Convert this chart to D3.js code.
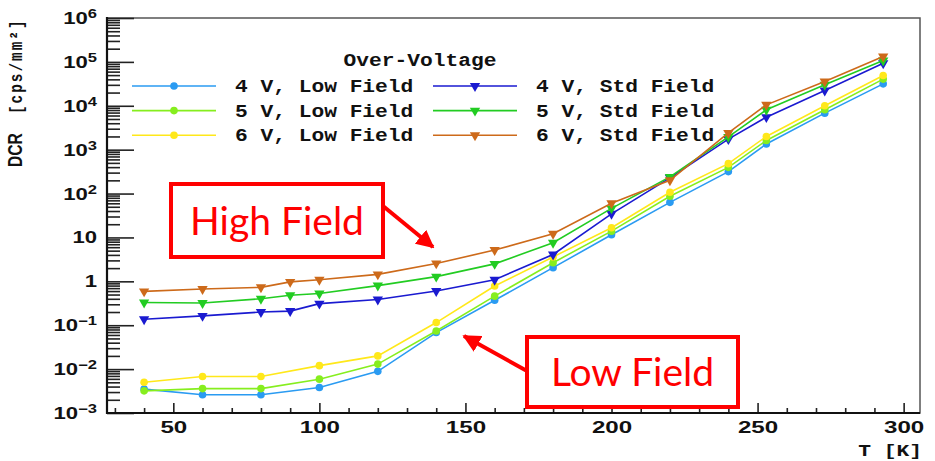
<!DOCTYPE html>
<html>
<head>
<meta charset="utf-8">
<script src="https://cdn.jsdelivr.net/npm/d3@7"></script>
<style>
  body { margin: 0; background: #fff; }
  svg { display: block; }
</style>
</head>
<body>
<script>
// temperatures (K)
var tempStd = [40, 60, 80, 90, 100, 120, 140, 160, 180, 200, 220, 240, 253, 273, 293];
var tempLow = [40, 60, 80, 100, 120, 140, 160, 180, 200, 220, 240, 253, 273, 293];

// DCR in cps/mm^2
var low4 = [0.0035, 0.0026, 0.0026, 0.0038, 0.0089, 0.068, 0.37, 2.05, 11.5, 63, 316, 1350, 6800, 31600];
var low5 = [0.0032, 0.0036, 0.0036, 0.0059, 0.013, 0.074, 0.46, 2.66, 13.9, 87, 395, 1620, 8100, 40500];
var low6 = [0.005, 0.0068, 0.0068, 0.012, 0.020, 0.115, 0.78, 3.6, 16.6, 107, 480, 2000, 10000, 49000];
var std4 = [0.137, 0.163, 0.20, 0.21, 0.31, 0.385, 0.60, 1.09, 4.1, 34.5, 228, 1740, 5500, 22300, 93000];
var std5 = [0.33, 0.32, 0.40, 0.48, 0.53, 0.80, 1.28, 2.5, 7.6, 46, 240, 1950, 8100, 30000, 107000];
var std6 = [0.59, 0.67, 0.73, 0.97, 1.09, 1.44, 2.56, 5.15, 12.1, 60, 200, 2400, 10500, 35600, 132000];

var seriesNames = ["4 V, Low Field", "5 V, Low Field", "6 V, Low Field",
                   "4 V, Std Field", "5 V, Std Field", "6 V, Std Field"];
var xMajor = [50, 100, 150, 200, 250, 300];
var yDecades = [-3, -2, -1, 0, 1, 2, 3, 4, 5, 6];

var series = [
  {name: seriesNames[0], t: tempLow, v: low4, color: "#2a9bf2", marker: "circle"},
  {name: seriesNames[1], t: tempLow, v: low5, color: "#86ee1e", marker: "circle"},
  {name: seriesNames[2], t: tempLow, v: low6, color: "#ffe81a", marker: "circle"},
  {name: seriesNames[3], t: tempStd, v: std4, color: "#1a1ad0", marker: "tri"},
  {name: seriesNames[4], t: tempStd, v: std5, color: "#22cc22", marker: "tri"},
  {name: seriesNames[5], t: tempStd, v: std6, color: "#cd6a1a", marker: "tri"}
];

var W = 935, H = 461;
var plotL = 107, plotR = 920, plotT = 18, plotB = 413;

var svg = d3.select("body").append("svg")
    .attr("width", W)
    .attr("height", H);

var x = d3.scaleLinear().domain([27.3, 305.6]).range([plotL, plotR]);
var y = d3.scaleLog().domain([1e-3, 1e6]).range([plotB, plotT]);

// frame
svg.append("rect")
    .attr("x", plotL).attr("y", plotT)
    .attr("width", plotR - plotL).attr("height", plotB - plotT)
    .attr("fill", "none")
    .attr("stroke", "#555")
    .attr("stroke-width", 1.5);

// x axis: minor ticks every 10, major every 50
var xMinor = d3.range(30, 301, 10).filter(function(d){ return d % 50 !== 0; });
svg.append("g")
    .attr("transform", "translate(0," + plotB + ")")
    .call(d3.axisBottom(x).tickValues(xMinor).tickSize(-5).tickFormat(""))
    .call(function(g){ g.select(".domain").remove(); });

var xAx = svg.append("g")
    .attr("class", "xaxis")
    .attr("transform", "translate(0," + plotB + ")")
    .call(d3.axisBottom(x).tickValues(xMajor).tickSize(-10).tickFormat(d3.format("d")));
xAx.select(".domain").remove();
xAx.selectAll("text")
    .attr("y", 20)
    .attr("dy", null)
    .attr("transform", "scale(1.42,1)")
    .style("font-family", "'Liberation Sans', Arial, sans-serif")
    .style("font-weight", "bold")
    .style("font-size", "17px")
    .style("fill", "#111");

// y axis: decades + 2..9
var yMinor = [];
yDecades.slice(0, -1).forEach(function(e){
  for (var k = 2; k <= 9; k++) yMinor.push(k * Math.pow(10, e));
});
svg.append("g")
    .attr("transform", "translate(" + plotL + ",0)")
    .call(d3.axisLeft(y).tickValues(yMinor).tickSize(-13).tickFormat(""))
    .call(function(g){ g.select(".domain").remove(); });
svg.append("g")
    .attr("transform", "translate(" + plotL + ",0)")
    .call(d3.axisLeft(y).tickValues(yDecades.map(function(e){ return Math.pow(10, e); })).tickSize(-27).tickFormat(""))
    .call(function(g){ g.select(".domain").remove(); });
svg.selectAll(".tick line").attr("stroke", "#222").attr("stroke-width", 1.6);

// y tick labels
var yLab = svg.selectAll(".ylab")
    .data(yDecades)
    .enter()
    .append("text")
    .attr("class", "ylab")
    .attr("text-anchor", "end")
    .attr("transform", function(e){ return "translate(97," + (y(Math.pow(10, e)) + 6) + ") scale(1.38,1)"; })
    .style("font-family", "'Liberation Sans', Arial, sans-serif")
    .style("font-weight", "bold")
    .style("font-size", "16px")
    .style("fill", "#111");
yLab.each(function(e){
  var t = d3.select(this);
  if (e === 0) { t.text("1"); return; }
  if (e === 1) { t.text("10"); return; }
  t.append("tspan").text("10");
  t.append("tspan")
      .attr("dy", -6)
      .style("font-size", "12px")
      .text(e < 0 ? "\u2212" + (-e) : e);
});

// axis lines
svg.append("line").attr("x1", plotL).attr("x2", plotL).attr("y1", plotT - 1).attr("y2", plotB + 1)
    .attr("stroke", "#111").attr("stroke-width", 2.2);
svg.append("line").attr("x1", plotL - 1).attr("x2", plotR).attr("y1", plotB).attr("y2", plotB)
    .attr("stroke", "#111").attr("stroke-width", 2.2);

// axis titles
var yTitle = svg.append("text")
    .attr("transform", "translate(22,167) rotate(-90) scale(0.8,1)")
    .attr("text-anchor", "start")
    .style("font-weight", "bold")
    .style("fill", "#111");
yTitle.append("tspan")
    .style("font-family", "'Liberation Sans', Arial, sans-serif")
    .style("font-size", "19.5px")
    .text("DCR");
yTitle.append("tspan")
    .attr("dx", 24)
    .style("font-family", "'Liberation Mono', monospace")
    .style("font-size", "18px")
    .style("letter-spacing", "2.5px")
    .text("[cps/mm\u00b2]");

svg.append("text")
    .attr("text-anchor", "end")
    .attr("transform", "translate(922,456) scale(1.25,1)")
    .style("font-family", "'Liberation Mono', monospace")
    .style("font-weight", "bold")
    .style("font-size", "17px")
    .style("fill", "#111")
    .text("T [K]");

// series
var line = d3.line()
    .x(function(d){ return x(d[0]); })
    .y(function(d){ return y(d[1]); });
var tri = d3.symbol().type(d3.symbolTriangle).size(46);

function drawMarker(g, s, px, py) {
  if (s.marker === "circle") {
    g.append("circle").attr("cx", px).attr("cy", py).attr("r", 3.8).attr("fill", s.color);
  } else {
    g.append("path").attr("d", tri)
        .attr("transform", "translate(" + px + "," + py + ") rotate(180)")
        .attr("fill", s.color);
  }
}

series.forEach(function(s){
  var pts = s.t.map(function(t, i){ return [t, s.v[i]]; });
  var g = svg.append("g").attr("class", "series");
  g.append("path")
      .datum(pts)
      .attr("d", line)
      .attr("fill", "none")
      .attr("stroke", s.color)
      .attr("stroke-width", 1.6);
  pts.forEach(function(p){ drawMarker(g, s, x(p[0]), y(p[1])); });
});

// legend
var legFont = function(sel){
  sel.style("font-family", "'Liberation Mono', 'Courier New', monospace")
     .style("font-weight", "bold")
     .style("font-size", "18px")
     .style("fill", "#111");
};
svg.append("text")
    .attr("text-anchor", "middle")
    .attr("transform", "translate(420,66) scale(1.18,1)")
    .call(legFont)
    .text("Over-Voltage");

series.forEach(function(s, i){
  var col = Math.floor(i / 3), row = i % 3;
  var x0 = col === 0 ? 132 : 433;
  var yy = 86 + row * 24.6;
  var g = svg.append("g").attr("class", "legend");
  g.append("line").attr("x1", x0).attr("x2", x0 + 84).attr("y1", yy).attr("y2", yy)
      .attr("stroke", s.color).attr("stroke-width", 1.6);
  drawMarker(g, s, x0 + 42, yy);
  g.append("text")
      .attr("transform", "translate(" + (col === 0 ? 235 : 536) + "," + (yy + 6) + ") scale(1.18,1)")
      .call(legFont)
      .text(s.name);
});

// annotations
svg.append("defs").append("marker")
    .attr("id", "arrow")
    .attr("viewBox", "0 0 10 10")
    .attr("refX", 9).attr("refY", 5)
    .attr("markerWidth", 4.5).attr("markerHeight", 4.5)
    .attr("orient", "auto")
    .append("path")
    .attr("d", "M0,0 L10,5 L0,10 z")
    .attr("fill", "#ff0000");

var notes = [
  {text: "High Field", box: [171, 184, 212, 73], from: [383, 206], to: [433, 247]},
  {text: "Low Field", box: [527, 337, 211, 70], from: [527, 371], to: [464, 336]}
];
notes.forEach(function(n){
  svg.append("line")
      .attr("x1", n.from[0]).attr("y1", n.from[1])
      .attr("x2", n.to[0]).attr("y2", n.to[1])
      .attr("stroke", "#ff0000").attr("stroke-width", 4)
      .attr("marker-end", "url(#arrow)");
  svg.append("rect")
      .attr("x", n.box[0]).attr("y", n.box[1])
      .attr("width", n.box[2]).attr("height", n.box[3])
      .attr("fill", "#fff")
      .attr("stroke", "#ff0000")
      .attr("stroke-width", 4);
  svg.append("text")
      .attr("x", n.box[0] + n.box[2] / 2)
      .attr("y", n.box[1] + n.box[3] / 2 + 14)
      .attr("text-anchor", "middle")
      .style("font-family", "Lato, 'Open Sans', sans-serif")
      .style("font-size", "39px")
      .style("fill", "#ff0000")
      .text(n.text);
});
</script>
</body>
</html>
